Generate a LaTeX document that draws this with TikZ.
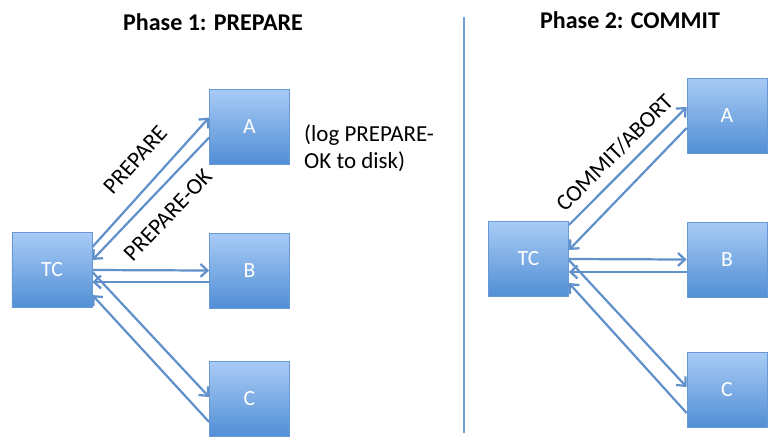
\documentclass[tikz,border=0pt]{standalone}
\usepackage{fontspec}
\setmainfont{Carlito}
\usetikzlibrary{arrows.meta,calc}
\definecolor{boxtop}{RGB}{168,203,245}
\definecolor{boxbot}{RGB}{82,143,213}
\definecolor{boxline}{RGB}{104,153,212}
\definecolor{arrc}{RGB}{96,145,203}
\definecolor{divc}{RGB}{110,157,214}
\newcommand{\pxu}{0.03cm}
\begin{document}
\begin{tikzpicture}[x=0.03cm,y=-0.03cm,
  box/.style={draw=boxline, line width=0.6pt, top color=boxtop, bottom color=boxbot,
    minimum width=2.4cm, minimum height=2.25cm, inner sep=0pt, text=white,
    font=\fontsize{18.5}{21}\selectfont},
  arrf/.style={draw=arrc, line width=1.9pt, -{Straight Barb[length=6pt,width=11pt]}},
  arrb/.style={draw=arrc, line width=1.9pt, {Straight Barb[length=6pt,width=11pt]}-},
  lbl/.style={font=\fontsize{19.6}{23}\selectfont, text=black, inner sep=0pt},
  ttl/.style={font=\bfseries\fontsize{20.5}{24}\selectfont, text=black, inner sep=0pt}]
\useasboundingbox (0,0) rectangle (768,438);

% titles
\node[ttl] (t1) at (213,22) {Phase 1: PREPARE};
\node[ttl] (t2) at (630,20) {Phase 2: COMMIT};

% divider
\coordinate (d1) at (464,17);
\coordinate (d2) at (464,433);
\draw[divc, line width=1.9pt] (d1) -- (d2);

% left phase
\node[box] (TC1) at (52,270) {TC};
\node[box] (A1) at (249.5,126.5) {A};
\node[box] (B1) at (249.5,270.5) {B};
\node[box] (C1) at (249.5,399) {C};

\draw[arrf] ([yshift=23*\pxu]TC1.east) -- node[lbl, sloped, above=0.54cm, pos=0.535] {PREPARE} ([yshift=9*\pxu]A1.west);
\draw[arrb] ([yshift=10*\pxu]TC1.east) -- node[lbl, sloped, below=0.45cm, pos=0.5] {PREPARE-OK} ([yshift=-11*\pxu]A1.west);
\draw[arrf] ([yshift=0*\pxu]TC1.east) -- ([yshift=0*\pxu]B1.west);
\draw[arrb] ([yshift=-12*\pxu]TC1.east) -- ([yshift=-11.5*\pxu]B1.west);
\draw[arrf] ([yshift=-2*\pxu]TC1.east) -- ([yshift=2*\pxu]C1.west);
\draw[arrb] ([yshift=-25*\pxu]TC1.east) -- ([yshift=-23*\pxu]C1.west);

\node[lbl, anchor=west, align=left] (note) at (304,148) {(log PREPARE-\\OK to disk)};

% right phase
\node[box] (TC2) at (528.5,259) {TC};
\node[box] (A2) at (727,115.5) {A};
\node[box] (B2) at (727,259.5) {B};
\node[box] (C2) at (727,390) {C};

\draw[arrf] ([yshift=34*\pxu]TC2.east) -- node[lbl, sloped, above=0.27cm, pos=0.5] {COMMIT/ABORT} ([yshift=8.5*\pxu]A2.west);
\draw[arrb] ([yshift=9*\pxu]TC2.east) -- ([yshift=-12.5*\pxu]A2.west);
\draw[arrf] ([yshift=0*\pxu]TC2.east) -- ([yshift=0*\pxu]B2.west);
\draw[arrb] ([yshift=-13*\pxu]TC2.east) -- ([yshift=-12.5*\pxu]B2.west);
\draw[arrf] ([yshift=-1*\pxu]TC2.east) -- ([yshift=3*\pxu]C2.west);
\draw[arrb] ([yshift=-24*\pxu]TC2.east) -- ([yshift=-23*\pxu]C2.west);
\end{tikzpicture}
\end{document}
